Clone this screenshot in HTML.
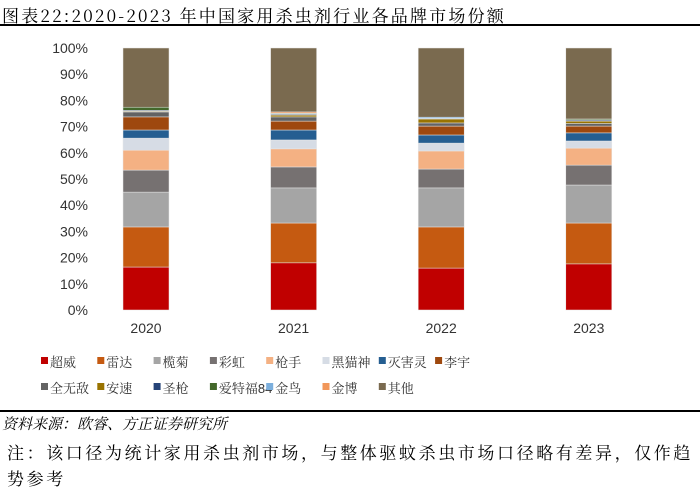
<!DOCTYPE html>
<html><head><meta charset="utf-8"><style>
body{margin:0;width:700px;height:500px;background:#fff;font-family:"Liberation Sans","Noto Sans CJK SC",sans-serif;overflow:hidden;position:relative}
.t{position:absolute;white-space:nowrap}
</style></head><body>
<div class="t" style="left:2px;top:2px;font-size:17px;letter-spacing:2.2px;font-family:'Noto Serif CJK SC','Liberation Sans',serif">图表22:2020-2023 年中国家用杀虫剂行业各品牌市场份额</div>
<div style="position:absolute;left:0;top:24px;width:700px;height:2px;background:#000"></div>
<svg id="chart" width="700" height="410" style="position:absolute;left:0;top:0"></svg>
<div style="position:absolute;left:0;top:410px;width:700px;height:2px;background:#000"></div>
<div class="t" style="left:2px;top:413px;font-size:15px;letter-spacing:0px;font-style:italic;font-family:'Noto Serif CJK SC',serif">资料来源：欧睿、方正证券研究所</div>
<div class="t" style="left:7px;top:439px;font-size:17px;letter-spacing:2.6px;line-height:26px;white-space:normal;width:695px;font-family:'Noto Serif CJK SC',serif">注：该口径为统计家用杀虫剂市场，与整体驱蚊杀虫市场口径略有差异，仅作趋势参考</div>
<script>
const years=['2020','2021','2022','2023'];
const brands=['超威','雷达','榄菊','彩虹','枪手','黑猫神','灭害灵','李宇','全无敌','安速','圣枪','爱特福84','金鸟','金博','其他'];
const colors=['#c00000','#c55a11','#a5a5a5','#767171','#f4b183','#d6dce5','#255e91','#9e480e','#636363','#997300','#264478','#43682b','#7cafdd','#f1975a','#7a6a4f'];
const s2020=[16.4,15.3,13.3,8.4,7.6,4.6,3.1,5.0,1.9,0.3,0.3,1.2,0,0,22.6];
const s2021=[18.0,15.2,13.4,8.0,6.9,3.4,3.8,3.4,1.6,0.7,0.3,0.3,0.1,0.5,24.4];
const s2022=[16.0,15.7,14.9,7.2,6.9,3.0,3.1,3.4,1.2,1.5,0.1,0.1,0.5,0,26.4];
const s2023=[17.6,15.6,14.5,7.6,6.5,2.7,3.1,2.6,1.0,0.9,0.4,0.4,0,0,27.1];
const yTicks=[0,10,20,30,40,50,60,70,80,90,100];
const series=[s2020,s2021,s2022,s2023];
const NS='http://www.w3.org/2000/svg';
const svg=document.getElementById('chart');
const y=v=>310-v*2.62;
const x=i=>146+i*147.6;
function mk(t,a){const e=document.createElementNS(NS,t);for(const k in a)e.setAttribute(k,a[k]);svg.appendChild(e);return e;}
yTicks.forEach(v=>{const e=mk('text',{x:88,y:y(v)+5,'text-anchor':'end','font-size':14,fill:'#333'});e.textContent=v+'%';

});
years.forEach((yr,i)=>{let acc=0;series[i].forEach((v,j)=>{if(v<=0)return;
const r=mk('rect',{x:x(i)-23,y:y(acc+v),width:46,height:y(acc)-y(acc+v),fill:colors[j],stroke:'#e8e8e8','stroke-width':0.5});


acc+=v;});
const t=mk('text',{x:x(i),y:333,'text-anchor':'middle','font-size':14,fill:'#333'});t.textContent=yr;

});
brands.forEach((b,j)=>{const col=j%8,row=Math.floor(j/8);const lx=41+col*56.3,ly=363+row*26;
const r=mk('rect',{x:lx,y:ly-6,width:7,height:7,fill:colors[j]});


const t=mk('text',{x:lx+9,y:ly+4,'font-size':13,fill:'#333','font-family':"'Liberation Sans','Noto Serif CJK SC',serif"});t.textContent=b;

});
</script>
</body></html>
